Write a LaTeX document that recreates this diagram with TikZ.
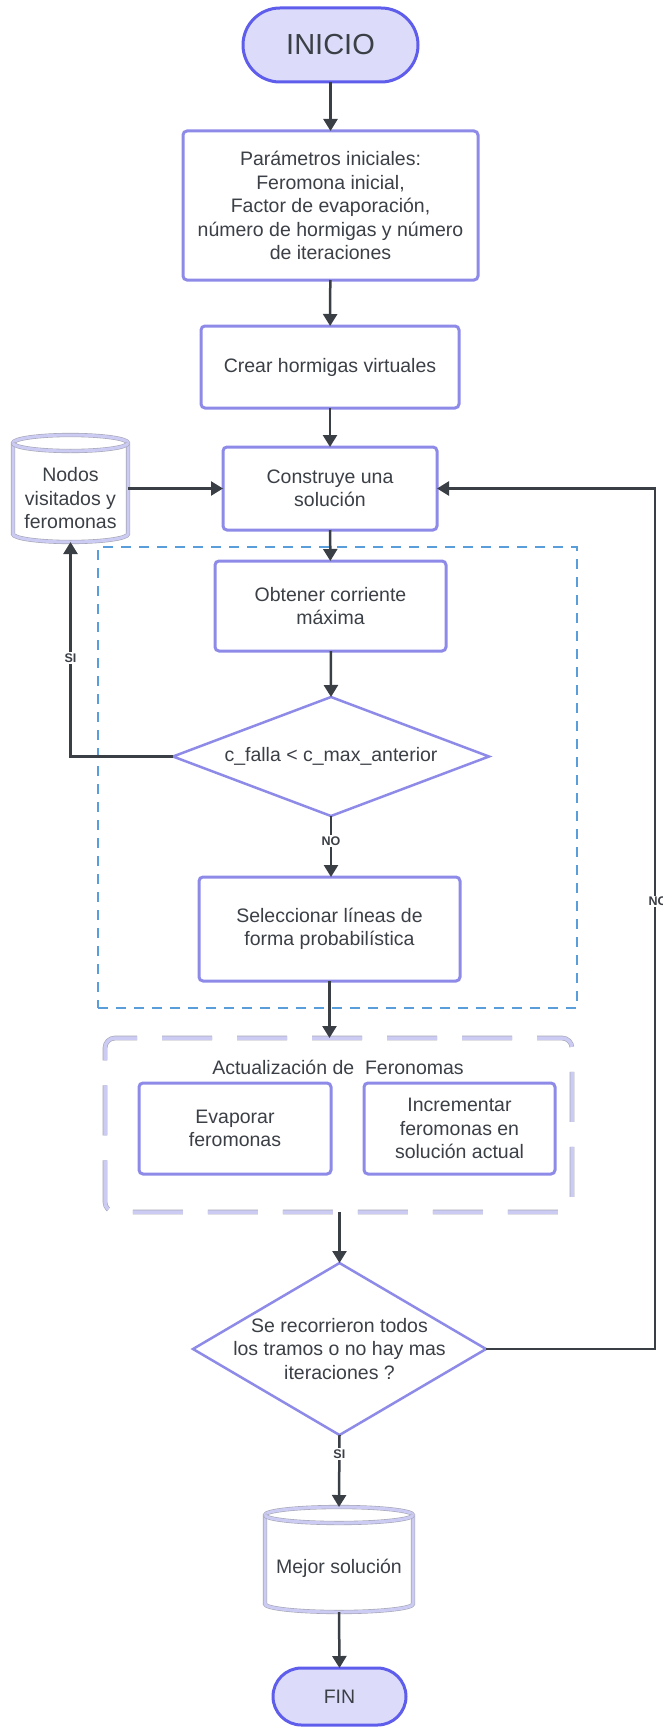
\documentclass[tikz,border=0pt]{standalone}
\usepackage{fontspec}
\setmainfont{Liberation Sans}
\usetikzlibrary{shapes.geometric,arrows.meta,calc}
\definecolor{txt}{HTML}{3B3F46}
\definecolor{arr}{HTML}{3A3E45}
\definecolor{termfill}{HTML}{DCDCFA}
\definecolor{termdraw}{HTML}{5F5DEB}
\definecolor{procdraw}{HTML}{8E8BE8}
\definecolor{cylband}{HTML}{CBCBF3}
\definecolor{cyledge}{HTML}{A6A6B6}
\definecolor{bluedash}{HTML}{5A9DDB}
\newcommand\drawcyl[2]{%
  \draw[cylline] ([yshift=-8pt]#1.north west) -- ([yshift=8pt]#1.south west)
    arc[start angle=180,end angle=360,x radius=#2,y radius=8pt]
    -- ([yshift=-8pt]#1.north east)
    arc[start angle=0,end angle=180,x radius=#2,y radius=8pt] -- cycle;
  \draw[cylline] ([yshift=-8pt]#1.north west)
    arc[start angle=180,end angle=360,x radius=#2,y radius=8pt];}
\begin{document}
\begin{tikzpicture}[x=1pt,y=-1pt,
  font=\fontsize{19.5}{23.5}\selectfont, text=txt,
  every node/.style={outer sep=0pt},
  term/.style={draw=termdraw, fill=termfill, line width=3pt, inner sep=0pt},
  proc/.style={draw=procdraw, fill=white, line width=3pt, rounded corners=4pt, inner sep=0pt, align=center},
  decision/.style={diamond, draw=procdraw, fill=white, line width=2.5pt, inner sep=0pt},
  cylbox/.style={draw=none, inner sep=0pt},
  cylline/.style={draw=cyledge, double=cylband, double distance=3pt, line width=0.6pt, fill=white},
  plain/.style={align=center, inner sep=0pt},
  flow/.style={draw=arr, line width=2.5pt, -{Triangle[length=12pt,width=14pt]}},
  lbl/.style={font=\bfseries\fontsize{12.5}{14}\selectfont, fill=white, inner sep=1.5pt, text=arr},
  regionbox/.style={draw=bluedash, line width=2pt, dash pattern=on 10pt off 8pt, inner sep=0pt},
  grpbox/.style={draw=cyledge, double=cylband, double distance=3.5pt, line width=0.6pt, rounded corners=10pt, dash pattern=on 50pt off 25pt, dash phase=25pt, inner sep=0pt}
]
\useasboundingbox (0,0) rectangle (662,1728);

% containers
\node[regionbox, minimum width=479pt, minimum height=461pt] (region) at (337.5,777.5) {};
\node[grpbox, minimum width=467pt, minimum height=174pt] (grp) at (338.5,1125) {};

% nodes
\node[term, rounded corners=37pt, minimum width=175pt, minimum height=74pt, font=\fontsize{29}{32}\selectfont] (inicio) at (330.5,45) {INICIO};
\node[proc, minimum width=295pt, minimum height=149pt] (param) at (330.5,205.5)
  {Parámetros iniciales:\\Feromona inicial,\\Factor de evaporación,\\número de hormigas y número\\de iteraciones};
\node[proc, minimum width=258pt, minimum height=82pt] (crear) at (330,367) {Crear hormigas virtuales};
\node[proc, minimum width=214pt, minimum height=83pt] (constr) at (330,488.5) {Construye una\\solución};

\node[cylbox, minimum width=115pt, minimum height=107pt] (nodos) at (70.5,488.5) {};
\drawcyl{nodos}{57.5pt}
\node[plain] (nodostxt) at ([yshift=-10pt]nodos.center) {Nodos\\visitados y\\feromonas};

\node[proc, minimum width=231pt, minimum height=90pt] (obtener) at (330.5,606) {Obtener corriente\\máxima};
\node[decision, minimum width=316pt, minimum height=119pt] (dec1) at (331,756.5) {};
\node[plain] (dec1txt) at (dec1.center) {c\_falla < c\_max\_anterior};
\node[proc, minimum width=261pt, minimum height=104pt] (sel) at (329.5,929) {Seleccionar líneas de\\forma probabilística};

\node[plain] (grptitle) at (338,1067) {Actualización de~ Feronomas};
\node[proc, minimum width=192pt, minimum height=91pt] (evap) at (235,1128.5) {Evaporar\\feromonas};
\node[proc, minimum width=191pt, minimum height=91pt] (incr) at (459.5,1128.5) {Incrementar\\feromonas en\\solución actual};

\node[decision, minimum width=293pt, minimum height=172pt] (dec2) at (339.5,1349) {};
\node[plain] (dec2txt) at (dec2.center) {Se recorrieron todos\\los tramos o no hay mas\\iteraciones ?};

\node[cylbox, minimum width=148pt, minimum height=105pt] (mejor) at (339,1559.5) {};
\drawcyl{mejor}{74pt}
\node[plain] (mejortxt) at ([yshift=-9pt]mejor.center) {Mejor solución};

\node[term, rounded corners=28.5pt, minimum width=133pt, minimum height=57pt] (fin) at (339.5,1696.5) {FIN};

\coordinate (noturn) at (655,1349);

% connectors
\draw[flow] (inicio) -- (param);
\draw[flow] (param) -- (crear);
\draw[flow] (crear) -- (constr);
\draw[flow] (nodos.east) -- (constr.west);
\draw[flow] (constr) -- (obtener);
\draw[flow] (obtener) -- (dec1.north);
\draw[flow] (dec1.south) -- node[lbl, pos=0.41] {NO} (dec1.south |- sel.north);
\draw[flow] (dec1.west) -| node[lbl, pos=0.73] {SI} (nodos.south);
\draw[flow] (sel.south) -- (sel.south |- grp.north);
\draw[flow] (dec2.north |- grp.south) -- (dec2.north);
\draw[flow] (dec2.east) -- (noturn) |- node[lbl, pos=0.26, xshift=3pt] {NO} (constr.east);
\draw[flow] (dec2.south) -- node[lbl, pos=0.26] {SI} (mejor.north);
\draw[flow] (mejor.south) -- (fin.north);
\end{tikzpicture}
\end{document}
